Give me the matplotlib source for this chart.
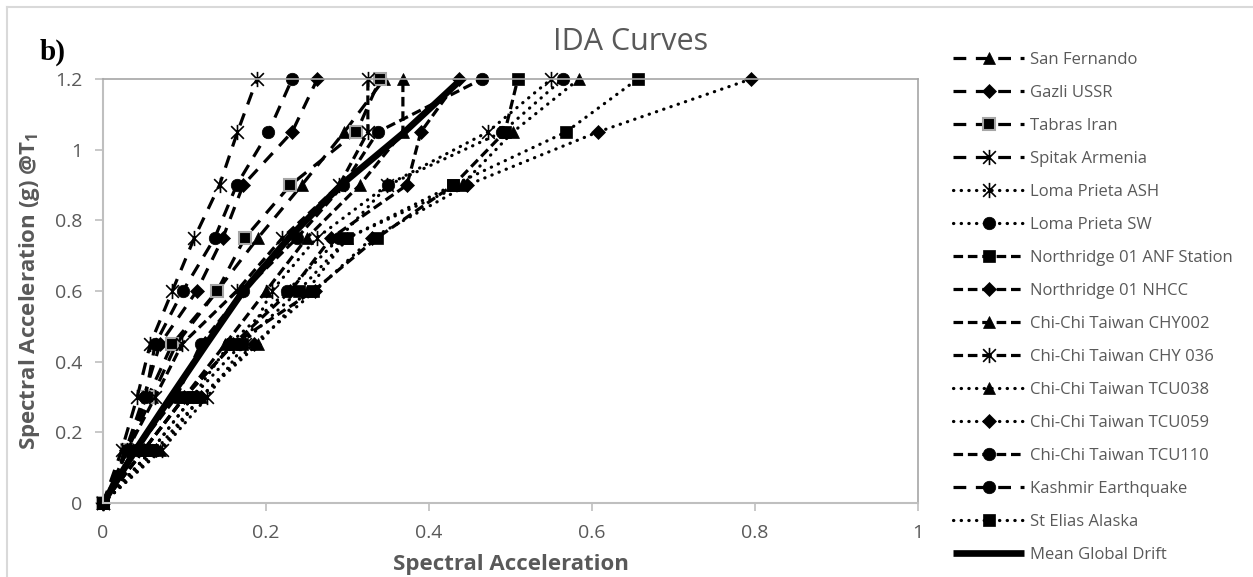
import matplotlib.pyplot as plt
from matplotlib.path import Path
from matplotlib.lines import Line2D

# Intensity levels (y) and spectral acceleration (x) per record
im_levels = [0, 0.15, 0.3, 0.45, 0.6, 0.75, 0.9, 1.05, 1.2]

san_fernando = [0, 0.030, 0.060, 0.090, 0.140, 0.190, 0.244, 0.296, 0.345]
gazli = [0, 0.028, 0.050, 0.070, 0.115, 0.147, 0.172, 0.232, 0.263]
tabras = [0, 0.030, 0.055, 0.085, 0.140, 0.174, 0.230, 0.311, 0.340]
spitak = [0, 0.023, 0.042, 0.058, 0.085, 0.112, 0.143, 0.165, 0.189]
loma_ash = [0, 0.072, 0.128, 0.174, 0.207, 0.262, 0.349, 0.472, 0.550]
loma_sw = [0, 0.060, 0.110, 0.155, 0.226, 0.290, 0.350, 0.490, 0.564]
anf = [0, 0.050, 0.100, 0.160, 0.258, 0.336, 0.430, 0.493, 0.509]
nhcc = [0, 0.050, 0.100, 0.160, 0.230, 0.280, 0.373, 0.390, 0.437]
chy002 = [0, 0.050, 0.100, 0.150, 0.200, 0.250, 0.315, 0.368, 0.368]
chy036 = [0, 0.030, 0.064, 0.097, 0.164, 0.220, 0.290, 0.325, 0.325]
tcu038 = [0, 0.070, 0.120, 0.190, 0.250, 0.300, 0.440, 0.503, 0.584]
tcu059 = [0, 0.065, 0.120, 0.185, 0.260, 0.330, 0.447, 0.607, 0.795]
tcu110 = [0, 0.040, 0.090, 0.120, 0.172, 0.238, 0.295, 0.337, 0.465]
kashmir = [0, 0.030, 0.052, 0.064, 0.098, 0.137, 0.164, 0.203, 0.232]
st_elias = [0, 0.060, 0.110, 0.170, 0.240, 0.300, 0.430, 0.568, 0.656]
mean_drift = [0, 0.040, 0.083, 0.127, 0.172, 0.228, 0.292, 0.370, 0.440]

labels = ["San Fernando", "Gazli USSR", "Tabras Iran", "Spitak Armenia",
          "Loma Prieta ASH", "Loma Prieta SW", "Northridge 01 ANF Station",
          "Northridge 01 NHCC", "Chi-Chi Taiwan CHY002", "Chi-Chi Taiwan CHY 036",
          "Chi-Chi Taiwan TCU038", "Chi-Chi Taiwan TCU059", "Chi-Chi Taiwan TCU110",
          "Kashmir Earthquake", "St Elias Alaska"]
records = [san_fernando, gazli, tabras, spitak, loma_ash, loma_sw, anf, nhcc,
           chy002, chy036, tcu038, tcu059, tcu110, kashmir, st_elias]

# star marker like Excel: X with a vertical bar
star = Path([(-1, -1), (1, 1), (-1, 1), (1, -1), (0, -1.2), (0, 1.2)],
            [Path.MOVETO, Path.LINETO, Path.MOVETO, Path.LINETO, Path.MOVETO, Path.LINETO])

long_dash = (0, (4, 3))
dash = (0, (3, 1.5))
dot = (0, (0.1, 2.3))

styles = [
    (long_dash, '^'), (long_dash, 'D'), (long_dash, 's'), (long_dash, star),
    (dot, star), (dot, 'o'), (dash, 's'), (dash, 'D'),
    (dash, '^'), (dash, star), (dot, '^'), (dot, 'D'),
    (dash, 'o'), (long_dash, 'o'), (dot, 's'),
]

plt.rcParams['font.family'] = ['Open Sans', 'DejaVu Sans']
plt.rcParams['mathtext.fontset'] = 'custom'
plt.rcParams['mathtext.rm'] = 'Open Sans:bold'

grey = '#595959'
fig = plt.figure(figsize=(12.53, 5.77), dpi=100)
ax = fig.add_axes([0.0822, 0.1282, 0.6504, 0.7348])

for lab, xs, (ls, mk) in zip(labels, records, styles):
    ms = 9 if mk != 'D' else 7.5
    kw = dict(marker=mk, markersize=ms, color='black', linestyle=ls, linewidth=2.3,
              label=lab, clip_on=False, dash_capstyle='round' if ls is dot else 'butt')
    if mk is star:
        kw.update(markersize=11, markeredgewidth=1.2)
    elif lab == "Tabras Iran":
        kw.update(markerfacecolor='black', markeredgecolor='#A6A6A6', markeredgewidth=1.5)
    else:
        kw.update(markeredgewidth=0.5)
    ax.plot(xs, im_levels, **kw)

ax.plot(mean_drift, im_levels, color='black', linewidth=4.8, label="Mean Global Drift",
        clip_on=False, solid_capstyle='butt')

ax.set_xlim(0, 1)
ax.set_ylim(0, 1.2)
ax.set_xticks([0, 0.2, 0.4, 0.6, 0.8, 1])
ax.set_xticklabels(["0", "0.2", "0.4", "0.6", "0.8", "1"])
ax.set_yticks([0, 0.2, 0.4, 0.6, 0.8, 1, 1.2])
ax.set_yticklabels(["0", "0.2", "0.4", "0.6", "0.8", "1", "1.2"])
ax.tick_params(colors='#BFBFBF', labelcolor=grey, labelsize=14, length=6, width=1.2, pad=9)
for side in ['left', 'bottom']:
    ax.spines[side].set_color('#BFBFBF')
    ax.spines[side].set_linewidth(1.5)
for side in ['top', 'right']:
    ax.spines[side].set_color('#A6A6A6')
    ax.spines[side].set_linewidth(1.2)

ax.set_xlabel("Spectral Acceleration", fontsize=16, fontweight='bold', color=grey, labelpad=9)
ax.set_ylabel(r"Spectral Acceleration (g) @T$\mathrm{_1}$", fontsize=16, fontweight='bold',
              color=grey, labelpad=9)

fig.text(0.503, 0.927, "IDA Curves", fontsize=22, color=grey, ha='center', va='center')
fig.text(0.032, 0.91, "b)", fontsize=21, fontweight='bold', family='Liberation Serif',
         ha='left', va='center')

ax.legend(loc='upper left', bbox_to_anchor=(0.755, 0.922), bbox_transform=fig.transFigure,
          frameon=False, fontsize=12, labelcolor=grey, handlelength=4.3,
          handletextpad=0.35, labelspacing=1.02, borderaxespad=0)

# chart area border (top and left visible in crop)
fig.add_artist(Line2D([0.0056, 0.0056], [0, 0.988], color='#D9D9D9', lw=1.5))
fig.add_artist(Line2D([0.0056, 1], [0.988, 0.988], color='#D9D9D9', lw=1.5))

fig.savefig("out.png", dpi=100)
